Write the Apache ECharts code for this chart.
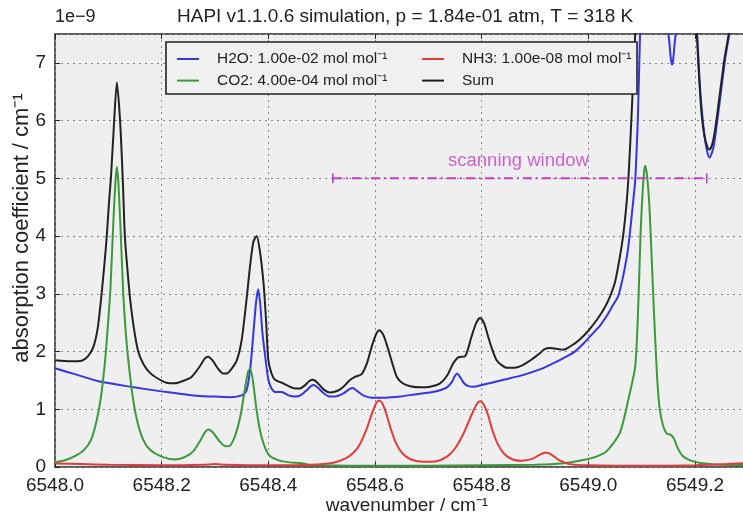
<!DOCTYPE html>
<html>
<head>
<meta charset="utf-8">
<script src="https://cdn.jsdelivr.net/npm/echarts@6/dist/echarts.min.js"></script>
<style>
  html, body { margin: 0; padding: 0; background: #fff; }
  #chart { width: 743px; height: 514px; }
</style>
</head>
<body>
<div id="chart"></div>
<script>
// absorption coefficient in units of 1e-9 cm^-1
const h2oWn = [6548.000, 6548.040, 6548.084, 6548.141, 6548.200, 6548.234, 6548.270, 6548.300, 6548.330, 6548.350,
  6548.359, 6548.366, 6548.372, 6548.377, 6548.381, 6548.385, 6548.389, 6548.395, 6548.400, 6548.406,
  6548.413, 6548.425, 6548.438, 6548.450, 6548.462, 6548.472, 6548.480, 6548.485, 6548.492, 6548.505,
  6548.515, 6548.525, 6548.540, 6548.552, 6548.558, 6548.566, 6548.578, 6548.594, 6548.620, 6548.647,
  6548.684, 6548.703, 6548.722, 6548.735, 6548.744, 6548.750, 6548.754, 6548.760, 6548.767, 6548.775,
  6548.785, 6548.800, 6548.841, 6548.880, 6548.909, 6548.928, 6548.950, 6548.972, 6548.990, 6549.009,
  6549.022, 6549.034, 6549.046, 6549.056, 6549.064, 6549.069, 6549.074, 6549.078, 6549.083, 6549.088,
  6549.091, 6549.093, 6549.095, 6549.097, 6549.100, 6549.110, 6549.125, 6549.140, 6549.149, 6549.152,
  6549.155, 6549.157, 6549.159, 6549.162, 6549.165, 6549.175, 6549.190, 6549.200, 6549.204, 6549.210,
  6549.217, 6549.222, 6549.227, 6549.232, 6549.236, 6549.246, 6549.257, 6549.266, 6549.280, 6549.320];
const h2oVal = [1.71, 1.60, 1.48, 1.39, 1.31, 1.27, 1.23, 1.22, 1.21, 1.24,
  1.32, 1.70, 2.32, 2.85, 3.08, 2.80, 2.32, 1.85, 1.51, 1.36,
  1.30, 1.30, 1.24, 1.22, 1.25, 1.33, 1.40, 1.42, 1.38, 1.27,
  1.22, 1.22, 1.27, 1.35, 1.37, 1.32, 1.24, 1.20, 1.20, 1.22,
  1.27, 1.29, 1.33, 1.38, 1.47, 1.58, 1.62, 1.55, 1.45, 1.40,
  1.39, 1.42, 1.51, 1.60, 1.69, 1.77, 1.87, 1.98, 2.13, 2.32,
  2.45, 2.61, 2.80, 2.96, 3.25, 3.48, 3.75, 4.06, 4.50, 4.98,
  5.60, 6.08, 6.80, 7.52, 8.60, 11.0, 11.0, 8.80, 7.60, 7.35,
  7.05, 6.97, 7.05, 7.35, 7.60, 9.00, 9.50, 8.20, 7.50, 6.50,
  5.80, 5.50, 5.36, 5.45, 5.60, 6.30, 7.10, 7.60, 8.80, 11.0];

const co2Wn = [6548.000, 6548.020, 6548.040, 6548.055, 6548.068, 6548.078, 6548.086, 6548.094, 6548.100, 6548.104,
  6548.109, 6548.113, 6548.116, 6548.119, 6548.123, 6548.128, 6548.133, 6548.138, 6548.146, 6548.154,
  6548.165, 6548.178, 6548.200, 6548.225, 6548.245, 6548.260, 6548.272, 6548.281, 6548.288, 6548.296,
  6548.308, 6548.320, 6548.328, 6548.338, 6548.348, 6548.356, 6548.362, 6548.366, 6548.371, 6548.377,
  6548.384, 6548.392, 6548.402, 6548.418, 6548.440, 6548.460, 6548.475, 6548.500, 6548.600, 6548.700,
  6548.800, 6548.900, 6548.950, 6548.990, 6549.015, 6549.034, 6549.059, 6549.075, 6549.088, 6549.094,
  6549.098, 6549.102, 6549.105, 6549.107, 6549.110, 6549.114, 6549.118, 6549.122, 6549.126, 6549.130,
  6549.134, 6549.140, 6549.147, 6549.154, 6549.160, 6549.167, 6549.176, 6549.190, 6549.210, 6549.250,
  6549.320];
const co2Val = [0.08, 0.12, 0.20, 0.30, 0.48, 0.80, 1.20, 1.85, 2.55, 3.10,
  4.16, 4.90, 5.20, 4.90, 4.10, 3.00, 2.30, 1.80, 1.20, 0.80,
  0.48, 0.30, 0.18, 0.13, 0.18, 0.28, 0.45, 0.60, 0.65, 0.60,
  0.45, 0.36, 0.37, 0.55, 0.90, 1.35, 1.65, 1.70, 1.50, 1.05,
  0.65, 0.38, 0.20, 0.12, 0.08, 0.07, 0.04, 0.03, 0.02, 0.02,
  0.03, 0.04, 0.06, 0.12, 0.18, 0.27, 0.59, 1.17, 1.75, 2.90,
  4.06, 4.80, 5.15, 5.22, 5.05, 4.60, 3.80, 2.90, 2.10, 1.40,
  1.00, 0.72, 0.58, 0.56, 0.50, 0.34, 0.20, 0.12, 0.07, 0.04,
  0.03];

const nh3Wn = [6548.000, 6548.050, 6548.100, 6548.200, 6548.280, 6548.300, 6548.320, 6548.400, 6548.480, 6548.520,
  6548.545, 6548.560, 6548.572, 6548.584, 6548.594, 6548.602, 6548.608, 6548.614, 6548.622, 6548.630,
  6548.640, 6548.652, 6548.668, 6548.690, 6548.715, 6548.735, 6548.750, 6548.766, 6548.780, 6548.790,
  6548.797, 6548.804, 6548.812, 6548.820, 6548.830, 6548.842, 6548.858, 6548.875, 6548.895, 6548.910,
  6548.920, 6548.930, 6548.945, 6548.965, 6549.000, 6549.100, 6549.200, 6549.260, 6549.320];
const nh3Val = [0.06, 0.05, 0.04, 0.03, 0.04, 0.05, 0.04, 0.03, 0.04, 0.07,
  0.15, 0.25, 0.40, 0.65, 0.92, 1.10, 1.15, 1.10, 0.90, 0.65,
  0.40, 0.23, 0.13, 0.09, 0.10, 0.18, 0.32, 0.58, 0.88, 1.08,
  1.14, 1.08, 0.90, 0.64, 0.40, 0.23, 0.13, 0.11, 0.14, 0.22,
  0.25, 0.22, 0.12, 0.05, 0.03, 0.02, 0.03, 0.05, 0.08];

const sumWn = [6548.000, 6548.030, 6548.050, 6548.062, 6548.072, 6548.080, 6548.0875, 6548.093, 6548.097, 6548.101,
  6548.105, 6548.111, 6548.116, 6548.122, 6548.127, 6548.131, 6548.136, 6548.141, 6548.148, 6548.156,
  6548.166, 6548.178, 6548.195, 6548.209, 6548.225, 6548.240, 6548.256, 6548.272, 6548.281, 6548.287,
  6548.295, 6548.306, 6548.315, 6548.322, 6548.331, 6548.341, 6548.350, 6548.359, 6548.366, 6548.372,
  6548.378, 6548.384, 6548.391, 6548.396, 6548.400, 6548.406, 6548.4125, 6548.425, 6548.438, 6548.450,
  6548.459, 6548.468, 6548.477, 6548.484, 6548.492, 6548.504, 6548.516, 6548.530, 6548.541, 6548.552,
  6548.5625, 6548.575, 6548.585, 6548.594, 6548.602, 6548.608, 6548.616, 6548.625, 6548.633, 6548.641,
  6548.652, 6548.666, 6548.685, 6548.703, 6548.722, 6548.735, 6548.747, 6548.756, 6548.769, 6548.781,
  6548.790, 6548.797, 6548.805, 6548.812, 6548.820, 6548.828, 6548.838, 6548.847, 6548.862, 6548.878,
  6548.895, 6548.909, 6548.918, 6548.928, 6548.940, 6548.953, 6548.968, 6548.984, 6549.000, 6549.016,
  6549.030, 6549.041, 6549.050, 6549.056, 6549.062, 6549.066, 6549.071, 6549.075, 6549.078, 6549.081,
  6549.085, 6549.088, 6549.092, 6549.100, 6549.190, 6549.200, 6549.2035, 6549.208, 6549.213, 6549.218,
  6549.223, 6549.227, 6549.232, 6549.237, 6549.245, 6549.255, 6549.264, 6549.275, 6549.320];
const sumVal = [1.85, 1.83, 1.84, 1.92, 2.08, 2.40, 3.01, 3.55, 3.99, 4.55,
  5.03, 6.01, 6.66, 6.00, 5.00, 4.00, 3.40, 2.90, 2.40, 2.00,
  1.78, 1.63, 1.52, 1.46, 1.45, 1.49, 1.56, 1.75, 1.88, 1.91,
  1.85, 1.70, 1.62, 1.62, 1.70, 1.85, 2.20, 2.89, 3.50, 3.90,
  4.00, 3.75, 3.18, 2.50, 1.85, 1.62, 1.51, 1.46, 1.40, 1.36,
  1.36, 1.41, 1.49, 1.51, 1.46, 1.34, 1.29, 1.32, 1.39, 1.50,
  1.56, 1.61, 1.80, 2.09, 2.30, 2.37, 2.28, 2.03, 1.78, 1.56,
  1.45, 1.40, 1.38, 1.39, 1.45, 1.58, 1.80, 1.90, 1.92, 2.26,
  2.50, 2.58, 2.48, 2.26, 2.03, 1.85, 1.76, 1.72, 1.72, 1.77,
  1.87, 1.97, 2.04, 2.06, 2.05, 2.03, 2.10, 2.21, 2.36, 2.55,
  2.75, 2.96, 3.20, 3.48, 3.80, 4.06, 4.50, 4.98, 5.50, 6.08,
  6.90, 7.52, 8.50, 11.0, 10.0, 8.20, 7.50, 6.70, 6.05, 5.72,
  5.55, 5.50, 5.58, 5.80, 6.35, 7.05, 7.55, 8.50, 11.0];

const scanWn = [6548.521, 6549.222];
const scanVal = [5, 5];

const xTicks = { min: 6548.0, max: 6549.32, interval: 0.2 };
const yTicks = { min: 0, max: 7.5, interval: 1 };

const seriesNames = ['H2O: 1.00e-02 mol mol\u207B\u00B9', 'CO2: 4.00e-04 mol mol\u207B\u00B9',
  'NH3: 1.00e-08 mol mol\u207B\u00B9', 'Sum'];
const seriesColors = ['#3535e6', '#3a9a3a', '#e23b3b', '#222222'];

const zip = (a, b) => a.map((x, i) => [x, b[i]]);
const FONT = '"Liberation Sans", Arial, sans-serif';

const chart = echarts.init(document.getElementById('chart'), null, { renderer: 'canvas' });

const lineSeries = (name, color, wn, val, z) => ({
  name, type: 'line', data: zip(wn, val),
  symbol: 'none', smooth: 0.25, clip: true, z,
  lineStyle: { color, width: 2 }, itemStyle: { color },
  emphasis: { disabled: true }
});

const legendBase = {
  orient: 'vertical', top: 50, itemGap: 3.6, padding: 0,
  icon: 'rect', itemWidth: 22, itemHeight: 2, z: 12,
  textStyle: { fontSize: 15.5, color: '#222', lineHeight: 18, padding: [0, 0, 0, 13], fontFamily: FONT }
};

chart.setOption({
  animation: false,
  backgroundColor: '#ffffff',
  textStyle: { fontFamily: FONT },
  title: {
    text: 'HAPI v1.1.0.6 simulation, p = 1.84e-01 atm, T = 318 K',
    left: 177, top: 7, padding: 0,
    textStyle: { fontSize: 19, fontWeight: 'normal', color: '#222', fontFamily: FONT }
  },
  grid: {
    left: 55, top: 34, bottom: 47, right: -16,
    outerBoundsMode: 'none', containLabel: false,
    show: true, backgroundColor: '#efefef', borderColor: '#2a2a2a', borderWidth: 1.5
  },
  legend: [
    Object.assign({}, legendBase, { data: [seriesNames[0], seriesNames[1]], left: 177 }),
    Object.assign({}, legendBase, { data: [seriesNames[2], seriesNames[3]], left: 422 })
  ],
  graphic: [{
    type: 'rect', z: 10,
    shape: { x: 166, y: 42, width: 471, height: 52 },
    style: { fill: '#f0f0f0', stroke: '#222', lineWidth: 1.6 }
  }, {
    type: 'text', left: 55, top: 8, z: 10,
    style: { text: '1e\u22129', fontSize: 18, fill: '#222', fontFamily: FONT }
  }, {
    // y-axis title, placed like the reference (slightly above the axis centre)
    type: 'text', x: 22, y: 228, rotation: Math.PI / 2, z: 10,
    style: {
      text: 'absorption coefficient / cm\u207B\u00B9', fontSize: 22, fill: '#222', fontFamily: FONT,
      align: 'center', verticalAlign: 'middle'
    }
  }],
  xAxis: [{
    type: 'value', min: xTicks.min, max: xTicks.max, interval: xTicks.interval,
    name: 'wavenumber / cm\u207B\u00B9', nameLocation: 'middle', nameGap: 29, nameMoveOverlap: false,
    nameTextStyle: { fontSize: 19, color: '#222', fontFamily: FONT },
    axisLine: { show: false },
    axisTick: { show: true, inside: true, length: 5, lineStyle: { color: '#222', width: 1 } },
    axisLabel: { fontSize: 19, color: '#222', margin: 9, showMaxLabel: false, fontFamily: FONT,
      formatter: v => v.toFixed(1) },
    splitLine: { show: true, lineStyle: { color: '#8a8a8a', type: [2, 4], width: 1 } }
  }, {
    type: 'value', position: 'top', min: xTicks.min, max: xTicks.max, interval: xTicks.interval,
    axisLine: { show: false },
    axisTick: { show: true, inside: true, length: 5, lineStyle: { color: '#222', width: 1 } },
    axisLabel: { show: false }, splitLine: { show: false }
  }],
  yAxis: {
    type: 'value', min: yTicks.min, max: yTicks.max, interval: yTicks.interval,
    axisLine: { show: false },
    axisTick: { show: true, inside: true, length: 5, lineStyle: { color: '#222', width: 1 } },
    axisLabel: { fontSize: 19, color: '#222', margin: 9, showMaxLabel: false, fontFamily: FONT },
    splitLine: { show: true, lineStyle: { color: '#8a8a8a', type: [2, 4], width: 1 } }
  },
  series: [
    lineSeries(seriesNames[0], seriesColors[0], h2oWn, h2oVal, 2),
    lineSeries(seriesNames[1], seriesColors[1], co2Wn, co2Val, 3),
    lineSeries(seriesNames[2], seriesColors[2], nh3Wn, nh3Val, 4),
    lineSeries(seriesNames[3], seriesColors[3], sumWn, sumVal, 5),
    {
      // scanning window marker
      type: 'line', data: zip(scanWn, scanVal), z: 6,
      symbol: 'rect', symbolSize: [1.6, 10],
      lineStyle: { color: '#c23ec2', width: 2, type: [9, 4, 2, 4] },
      itemStyle: { color: '#c23ec2' },
      emphasis: { disabled: true },
      label: { show: false }
    },
    {
      type: 'scatter', data: [[6548.869, 5.3]], symbolSize: 0, z: 6,
      label: {
        show: true, position: 'inside', formatter: 'scanning window',
        fontSize: 18.5, color: '#c23ec2', fontFamily: FONT
      },
      emphasis: { disabled: true }
    }
  ]
});
</script>
</body>
</html>
